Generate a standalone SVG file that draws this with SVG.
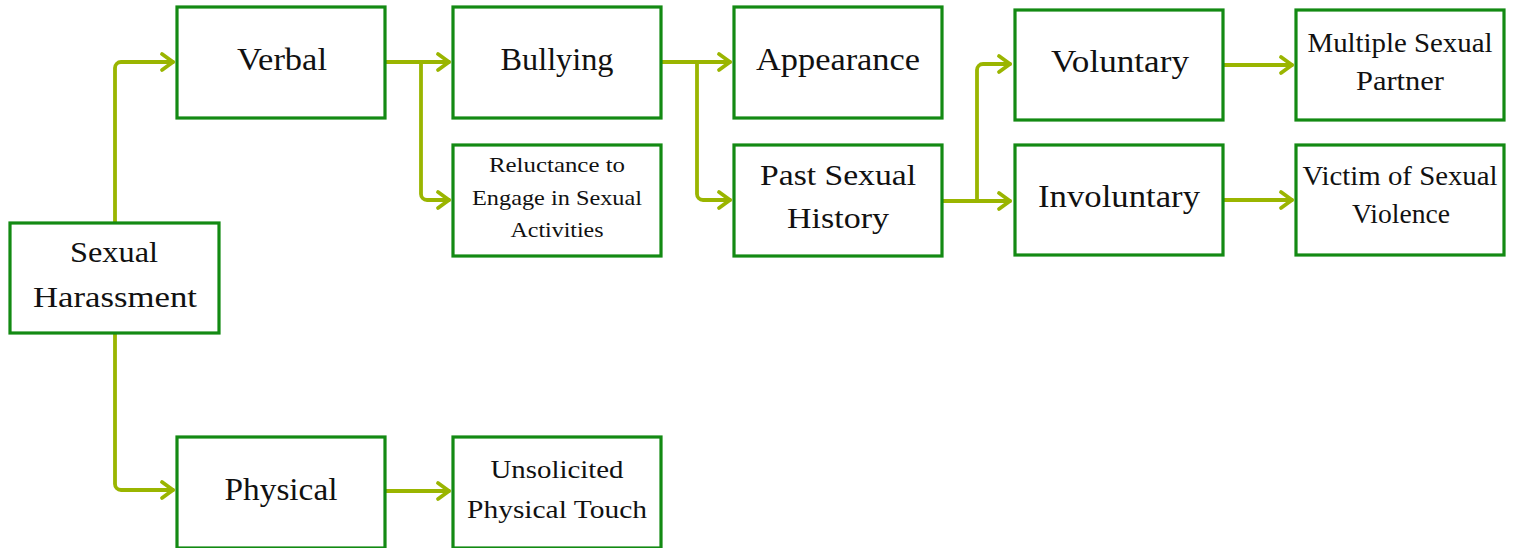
<svg xmlns="http://www.w3.org/2000/svg" width="1513" height="548" viewBox="0 0 1513 548">
<style>
.box{fill:#ffffff;stroke:#138a13;stroke-width:3.2}
.t{font-family:"Liberation Serif","Times New Roman",serif;fill:#111111;text-anchor:middle}
.c{fill:none;stroke:#9ab500;stroke-width:3.8;stroke-linejoin:round;stroke-linecap:round}
</style>
<defs>
<marker id="ah" markerUnits="userSpaceOnUse" markerWidth="20" markerHeight="24" viewBox="-14 -12 18 24" refX="0" refY="0" orient="auto">
<path d="M-11,-8 L0,0 L-11,8" fill="none" stroke="#9ab500" stroke-width="3.8" stroke-linejoin="round" stroke-linecap="round"/>
</marker>
</defs>
<rect width="1513" height="548" fill="#ffffff"/>
<g id="connectors">
<path class="c" marker-end="url(#ah)" d="M115,222 V68 A6,6 0 0 1 121,62 H173"/>
<path class="c" marker-end="url(#ah)" d="M115,333 V484 A6,6 0 0 0 121,490 H173"/>
<path class="c" marker-end="url(#ah)" d="M385,62 H449"/>
<path class="c" marker-end="url(#ah)" d="M421,62 V194 A6,6 0 0 0 427,200 H449"/>
<path class="c" marker-end="url(#ah)" d="M661,62 H730"/>
<path class="c" marker-end="url(#ah)" d="M697,62 V194 A6,6 0 0 0 703,200 H730"/>
<path class="c" marker-end="url(#ah)" d="M942,201 H1010"/>
<path class="c" marker-end="url(#ah)" d="M977,201 V70 A6,6 0 0 1 983,64 H1010"/>
<path class="c" marker-end="url(#ah)" d="M1223,65 H1292"/>
<path class="c" marker-end="url(#ah)" d="M1223,200 H1292"/>
<path class="c" marker-end="url(#ah)" d="M385,491 H449"/>
</g>
<g id="sexual-harassment">
<rect class="box" x="10" y="223" width="209" height="110"/>
<text class="t" x="114" y="262" font-size="30" textLength="88" lengthAdjust="spacingAndGlyphs">Sexual</text>
<text class="t" x="115" y="307" font-size="30" textLength="164" lengthAdjust="spacingAndGlyphs">Harassment</text>
</g>
<g id="verbal">
<rect class="box" x="177" y="7" width="208" height="111"/>
<text class="t" x="282" y="70" font-size="32" textLength="90" lengthAdjust="spacingAndGlyphs">Verbal</text>
</g>
<g id="physical">
<rect class="box" x="177" y="437" width="208" height="111"/>
<text class="t" x="281" y="500" font-size="31" textLength="113" lengthAdjust="spacingAndGlyphs">Physical</text>
</g>
<g id="bullying">
<rect class="box" x="453" y="7" width="208" height="111"/>
<text class="t" x="557" y="70" font-size="32" textLength="113" lengthAdjust="spacingAndGlyphs">Bullying</text>
</g>
<g id="reluctance">
<rect class="box" x="453" y="145" width="208" height="111"/>
<text class="t" x="557" y="172" font-size="22" textLength="136" lengthAdjust="spacingAndGlyphs">Reluctance to</text>
<text class="t" x="557" y="205" font-size="22" textLength="170" lengthAdjust="spacingAndGlyphs">Engage in Sexual</text>
<text class="t" x="557" y="237" font-size="22" textLength="93" lengthAdjust="spacingAndGlyphs">Activities</text>
</g>
<g id="unsolicited">
<rect class="box" x="453" y="437" width="208" height="111"/>
<text class="t" x="557" y="478" font-size="26" textLength="133" lengthAdjust="spacingAndGlyphs">Unsolicited</text>
<text class="t" x="557" y="518" font-size="26" textLength="180" lengthAdjust="spacingAndGlyphs">Physical Touch</text>
</g>
<g id="appearance">
<rect class="box" x="734" y="7" width="208" height="111"/>
<text class="t" x="838" y="70" font-size="31" textLength="164" lengthAdjust="spacingAndGlyphs">Appearance</text>
</g>
<g id="past-sexual-history">
<rect class="box" x="734" y="145" width="208" height="111"/>
<text class="t" x="838" y="185" font-size="30" textLength="156" lengthAdjust="spacingAndGlyphs">Past Sexual</text>
<text class="t" x="838" y="228" font-size="30" textLength="102" lengthAdjust="spacingAndGlyphs">History</text>
</g>
<g id="voluntary">
<rect class="box" x="1015" y="10" width="208" height="110"/>
<text class="t" x="1120" y="72" font-size="31" textLength="138" lengthAdjust="spacingAndGlyphs">Voluntary</text>
</g>
<g id="involuntary">
<rect class="box" x="1015" y="145" width="208" height="110"/>
<text class="t" x="1119" y="207" font-size="31" textLength="162" lengthAdjust="spacingAndGlyphs">Involuntary</text>
</g>
<g id="multiple-sexual-partner">
<rect class="box" x="1296" y="10" width="208" height="110"/>
<text class="t" x="1400" y="52" font-size="27" textLength="185" lengthAdjust="spacingAndGlyphs">Multiple Sexual</text>
<text class="t" x="1400" y="90" font-size="27" textLength="88" lengthAdjust="spacingAndGlyphs">Partner</text>
</g>
<g id="victim-of-sexual-violence">
<rect class="box" x="1296" y="145" width="208" height="110"/>
<text class="t" x="1400" y="185" font-size="27" textLength="195" lengthAdjust="spacingAndGlyphs">Victim of Sexual</text>
<text class="t" x="1401" y="223" font-size="27" textLength="98" lengthAdjust="spacingAndGlyphs">Violence</text>
</g>
</svg>
